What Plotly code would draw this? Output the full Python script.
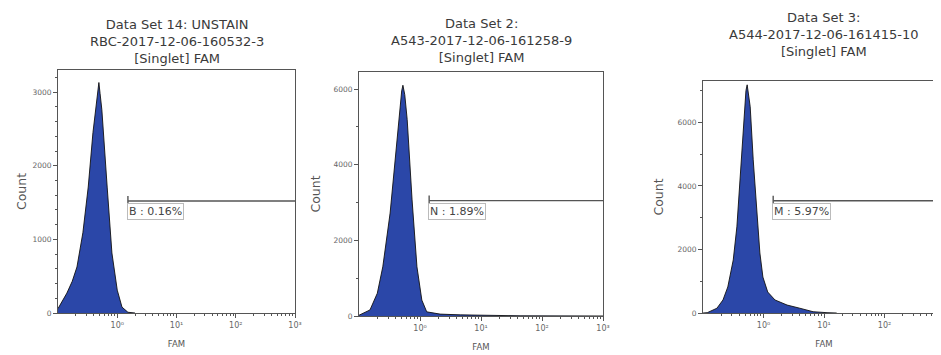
import numpy as np
import plotly.graph_objects as go

# ---------------- data ----------------
titles = [
    "Data Set 14: UNSTAIN<br>RBC-2017-12-06-160532-3<br>[Singlet] FAM",
    "Data Set 2:<br>A543-2017-12-06-161258-9<br>[Singlet] FAM",
    "Data Set 3:<br>A544-2017-12-06-161415-10<br>[Singlet] FAM",
]

# log10(FAM) positions and counts for each histogram
p1_logfam = [-1.00, -0.93, -0.85, -0.76, -0.68, -0.58, -0.49, -0.41, -0.34, -0.32,
             -0.31, -0.29, -0.26, -0.17, -0.09, 0.00, 0.08, 0.18, 0.30]
p1_count = [60, 150, 270, 430, 625, 1090, 1710, 2450, 2940, 3000,
            3130, 2980, 2760, 1710, 815, 310, 80, 10, 0]

p2_logfam = [-1.00, -0.82, -0.70, -0.61, -0.49, -0.41, -0.34, -0.30, -0.28, -0.25,
             -0.21, -0.13, -0.05, 0.03, 0.11, 0.33, 0.66, 0.98, 1.31, 1.64, 3.00]
p2_count = [20, 160, 600, 1300, 2720, 4130, 5450, 5950, 6100, 5850,
            5190, 3070, 1300, 420, 110, 50, 30, 20, 10, 5, 0]

p3_logfam = [-1.00, -0.93, -0.77, -0.67, -0.59, -0.50, -0.44, -0.39, -0.34, -0.31,
             -0.29, -0.27, -0.25, -0.22, -0.17, -0.11, -0.06, -0.01, 0.07, 0.19,
             0.39, 0.60, 0.82, 1.05, 1.21]
p3_count = [0, 10, 150, 410, 820, 1670, 2710, 4190, 5670, 6710,
            7000, 7180, 6900, 6490, 4820, 3150, 1890, 1130, 660, 410,
            250, 150, 40, 10, 0]

gate_names = ["B : 0.16%", "N : 1.89%", "M : 5.97%"]
gate_logfam = [0.18, 0.15, 0.16]
gate_count = [1520, 3050, 3530]

x_tickvals = [1, 10, 100, 1000]
x_ticktext = ["10⁰", "10¹", "10²", "10³"]

y_ranges = [3300, 6450, 7300]
y_dticks = [1000, 2000, 2000]
y_minor = [200, 1000, 1000]
x_log_range = [-1, 3]

# ---------------- layout geometry (window pixels) ----------------
W, H = 941, 355
OFF = 8  # page body margin
x_px = [(58, 295), (359, 603), (703, 945)]
y_px = [(70, 313), (72, 316), (81, 313)]
title_top = [15, 14, 8]
count_standoff = [3, 10, 11]


def px_x(px):
    return (px - OFF) / W


def px_y(py):
    return 1 - (py - OFF) / H


FILL = "#2b47a8"
AX = "#555555"
TXT = "#3a3a3a"
FONT = "DejaVu Sans"

series = [(p1_logfam, p1_count), (p2_logfam, p2_count), (p3_logfam, p3_count)]

fig = go.Figure()
minor_vals = [m * 10.0 ** k for k in range(-1, 3) for m in range(2, 10)]

for i, (lf, ct) in enumerate(series):
    xa = "x" if i == 0 else f"x{i+1}"
    ya = "y" if i == 0 else f"y{i+1}"
    fig.add_trace(go.Scatter(
        x=10 ** np.array(lf), y=ct, mode="lines", fill="tozeroy",
        fillcolor=FILL, line=dict(color="#111111", width=0.9),
        xaxis=xa, yaxis=ya, showlegend=False, hoverinfo="skip"))

    xd = [px_x(x_px[i][0]), px_x(x_px[i][1])]
    yd = [px_y(y_px[i][1]), px_y(y_px[i][0])]
    xkey = "xaxis" if i == 0 else f"xaxis{i+1}"
    ykey = "yaxis" if i == 0 else f"yaxis{i+1}"
    fig.layout[xkey] = dict(
        domain=xd, type="log", range=x_log_range, anchor=ya, automargin=False,
        tickvals=x_tickvals, ticktext=x_ticktext, ticks="outside", ticklen=4,
        tickcolor=AX, tickfont=dict(family=FONT, size=8, color="#666"),
        minor=dict(tickvals=minor_vals, ticks="outside", ticklen=2, tickcolor=AX),
        showgrid=False, zeroline=False, showline=True, mirror=True,
        linecolor=AX, linewidth=1,
        title=dict(text="FAM", font=dict(family=FONT, size=8.5, color="#555"), standoff=12))
    fig.layout[ykey] = dict(
        domain=yd, range=[0, y_ranges[i]], anchor=xa, dtick=y_dticks[i], automargin=False,
        ticks="outside", ticklen=4, tickcolor=AX,
        tickfont=dict(family=FONT, size=7.5, color="#666"),
        minor=dict(dtick=y_minor[i], ticks="outside", ticklen=2, tickcolor=AX),
        showgrid=False, zeroline=False, showline=True, mirror=True,
        linecolor=AX, linewidth=1,
        title=dict(text="Count", font=dict(family=FONT, size=12.5, color="#555"),
                   standoff=count_standoff[i]))

    # title centred over the full axis
    fig.add_annotation(
        x=px_x((x_px[i][0] + x_px[i][1]) / 2),
        y=px_y(title_top[i]), xref="paper", yref="paper", xanchor="center", yanchor="top",
        text=titles[i], showarrow=False, align="center",
        font=dict(family=FONT, size=13, color=TXT))

    # gate
    gx = 10 ** gate_logfam[i]
    xend = 10 ** x_log_range[1]
    fig.add_shape(type="line", xref=xa, yref=ya, x0=gx, x1=xend,
                  y0=gate_count[i], y1=gate_count[i], line=dict(color=AX, width=1.4))
    fig.add_shape(type="line", xref=xa, yref=ya, x0=gx, x1=gx,
                  ysizemode="pixel", yanchor=gate_count[i], y0=-4, y1=5,
                  line=dict(color=AX, width=1.4))
    fig.add_annotation(x=np.log10(gx), y=gate_count[i], xref=xa, yref=ya,
                       xanchor="left", yanchor="top", yshift=-2, xshift=-1,
                       text=gate_names[i], showarrow=False,
                       bgcolor="white", bordercolor="#bbbbbb", borderwidth=1, borderpad=1,
                       font=dict(family=FONT, size=11, color="#444"))

fig.update_layout(width=W, height=H, margin=dict(l=0, r=0, t=0, b=0, autoexpand=False),
                  paper_bgcolor="white", plot_bgcolor="white")
fig.write_html("out.html")
